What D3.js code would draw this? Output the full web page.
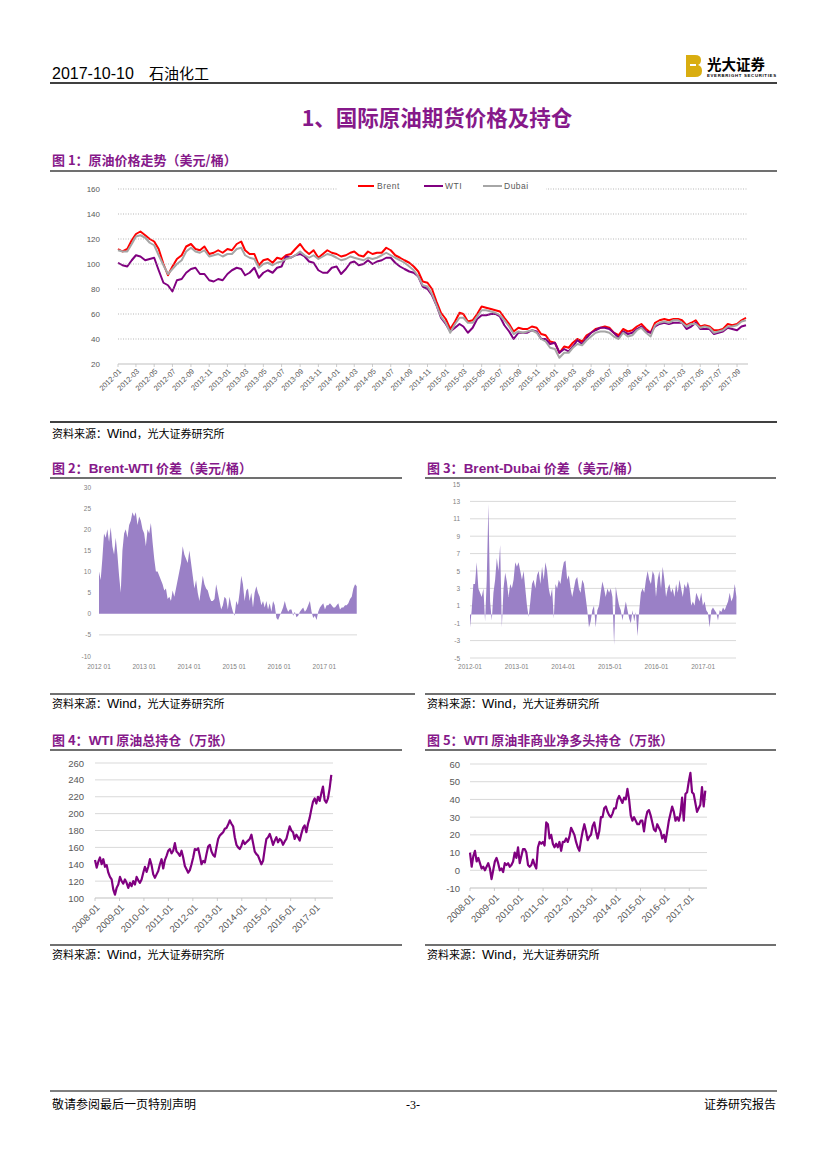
<!DOCTYPE html>
<html><head><meta charset="utf-8">
<script src="https://cdn.jsdelivr.net/npm/d3@7"></script>
<style>html,body{margin:0;padding:0;background:#fff}svg{display:block}</style>
</head><body>
<svg id="page" width="827" height="1169"></svg>
<script>
// ---------------- DATA ----------------
// Figure 1: semi-monthly prices (1st & 16th of each month), 2012-01 .. 2017-10
const brent = [112,110,112,119,124,126,123,120,118,112,100,91,98,104,107,114,116,112,111,114,108,109,111,109,
 112,111,116,118,111,108,108,99,103,104,101,105,104,107,108,112,116,111,108,111,105,108,111,109,
 108,106,107,109,110,107,106,110,108,109,109,113,111,107,105,103,101,98,94,86,85,80,70,61,
 56,48,54,61,60,54,55,60,66,65,64,63,62,57,52,46,49,48,48,50,49,44,43,38,
 37,29,34,33,37,40,38,43,45,48,49,50,49,45,43,48,46,47,50,52,48,45,53,55,
 56,55,56,56,55,51,53,55,50,51,50,47,47,48,52,51,52,55,57];
const wti = [101,99,98,103,107,106,103,104,105,95,85,83,78,87,88,93,96,97,92,92,87,86,88,87,
 92,95,97,96,91,93,97,89,93,95,93,97,98,106,105,107,108,106,102,101,95,93,93,97,
 98,92,96,101,102,99,100,103,100,102,103,105,105,101,98,96,94,93,90,82,80,75,67,57,
 52,46,49,52,50,45,49,56,59,59,60,60,58,51,46,40,45,45,45,47,46,40,40,36,
 37,29,32,30,34,39,36,41,45,47,49,49,48,45,41,46,44,45,48,50,46,45,50,52,
 53,52,53,53,53,48,50,53,48,48,48,44,45,46,49,48,47,50,51];
const dubai = [111,110,110,116,122,123,121,117,115,107,99,92,96,100,103,110,113,110,109,111,106,107,108,106,
 108,108,112,113,107,105,104,97,100,101,99,101,102,104,105,107,110,107,105,107,104,106,108,107,
 105,103,104,106,105,104,103,105,104,105,107,109,107,105,103,101,98,95,90,83,82,76,67,58,
 53,45,52,57,57,53,53,58,63,63,62,61,59,55,50,44,46,45,46,47,45,40,38,33,
 32,25,29,29,33,36,35,39,42,45,46,46,45,42,40,45,42,43,47,49,45,42,51,53,
 54,53,55,55,53,50,52,52,49,50,49,45,46,47,50,50,51,54,55];
const priceTickLabels = ["2012-01","2012-03","2012-05","2012-07","2012-09","2012-11","2013-01","2013-03","2013-05","2013-07","2013-09","2013-11",
 "2014-01","2014-03","2014-05","2014-07","2014-09","2014-11","2015-01","2015-03","2015-05","2015-07","2015-09","2015-11",
 "2016-01","2016-03","2016-05","2016-07","2016-09","2016-11","2017-01","2017-03","2017-05","2017-07","2017-09"];
const priceYTicks = [20,40,60,80,100,120,140,160];
const seriesNames = ["Brent","WTI","Dubai"];

// Figure 2: Brent-WTI spread (roughly two-weekly), 2012-01 .. 2017-09
const brentWti = [10,8,13,19,18,20,17,20.5,16,14,18,14,9,5,15,19,20,18,21,22,24,23,24,21,23,22,20,19,16,20,19,21.5,17,13,10,10,
 9,8,7,5.5,6,3.5,4,3,5.5,4,6,8,10,12,16,14,13,12,15,12,9,6,8,5,3,6,9,7,6,5.5,4,3,3,3.5,7,5,3,1,2,4,3.5,1,4,2,0.5,-0.5,
 3,2,5,9,7,3,5.5,6,3,5,1.5,5,6.5,5,4,2,3,1.5,3,1,2.5,0.5,3,2,-1,-1.5,-0.5,0.5,1.5,3,1.5,0.5,1,1,-0.5,0.5,-0.8,-0.5,
 0.5,1,1.5,0.5,1,2,3,0.5,-1,-0.5,-1.5,0.5,1.5,2,2.5,1,2,2,2.5,2,1.5,1.5,2,2.5,1,1.5,1.5,2,2,2.5,3.5,4,6,7,6.5];
const bwTickLabels = ["2012 01","2013 01","2014 01","2015 01","2016 01","2017 01"];
const bwYTicks = [-10,-5,0,5,10,15,20,25,30];

// Figure 3: Brent-Dubai spread (roughly two-weekly), 2012-01 .. 2017-09
const brentDubai = [-1.5,0.5,3.5,3.5,6,3,2.5,2,3,-0.8,4,12.7,1.5,-0.7,2.5,4,6.5,5,8,-1.5,3,4.8,3.8,2,3.5,3,4,6,5.5,6,5,4,5,3,1,-0.3,
 1.5,3.5,4,3,4.5,5,3.5,5.5,4,6,5,3,2,3,-0.5,3.5,3,4,3.5,5,6,6.2,4,4.5,3,2,3,4,4.3,3,2.5,4,3.5,2,0.5,-1.5,-0.8,0.5,1,-1.5,
 0.5,1,2.5,3.8,3,2,3,2.5,3,2,-3.5,3.2,2,1,0.5,-0.7,0.5,1.5,0.5,-0.5,-1,0.5,-0.8,0.3,-2.5,0.5,2.5,3,2.5,4,5,4,3.5,5,4.5,2,
 4,5,3,5.5,4,2,3,3.5,2.5,3,2,3.5,2.5,4,3,2,3.5,3,3.8,3,1,1.5,1,2.5,2,1.5,2.5,1,1.5,0.5,0.2,-1.5,0.5,0.8,0.5,0.2,-0.7,0.5,
 0.3,0.8,0.5,1,1.5,2.5,1.5,2,3.5,2];
const bdTickLabels = ["2012-01","2013-01","2014-01","2015-01","2016-01","2017-01"];
const bdYTicks = [-5,-3,-1,1,3,5,7,9,11,13,15];

// Figure 4: WTI total open interest (10k contracts), 2008-01 .. 2017-09
const totalOI = [145,136,143,148,140,146,137,139,130,125,122,110,104,112,116,125,120,117,122,118,112,118,114,120,116,125,121,118,122,130,
 137,131,137,146,139,128,124,128,132,140,146,135,145,150,156,158,153,156,165,155,153,150,156,148,138,134,130,133,140,148,
 158,157,159,150,140,144,142,152,161,163,155,151,149,160,170,174,176,178,182,183,187,192,188,185,172,163,160,158,162,168,
 164,166,168,170,175,165,155,152,150,145,140,144,158,170,172,176,170,163,168,172,166,170,168,163,167,170,178,185,180,178,
 170,175,172,168,176,183,186,178,188,195,205,214,218,212,220,215,224,232,216,213,218,230,246];
// Figure 5: WTI non-commercial net long (10k contracts), 2008-01 .. 2017-09
const netLong = [10,2,8,11,5,7,4,1,2,0,2,4,1,-5,0,5,7,4,0,1,-1,4,3,4,2,3,5,10,7,13,4,8,12,12,10,3,2,3,6,3,1,13,16,15,16,14,27,26,18,20,
 15,13,15,13,16,11,16,16,18,16,19,24,22,20,16,13,11,17,22,26,22,17,19,20,25,27,22,18,22,30,30,35,36,33,31,30,32,35,35,40,
 42,40,38,41,40,46,40,31,28,30,28,26,26,28,28,22,29,33,34,31,27,23,22,26,24,22,18,20,16,22,28,32,36,33,28,30,28,32,41,28,
 43,44,50,55,44,43,38,33,35,37,47,36,45];
const oiTickLabels = ["2008-01","2009-01","2010-01","2011-01","2012-01","2013-01","2014-01","2015-01","2016-01","2017-01"];
const oiYTicks = [100,120,140,160,180,200,220,240,260];
const nlYTicks = [-10,0,10,20,30,40,50,60];

// ---------------- DRAWING ----------------
const svg = d3.select('#page');
const CJK = '"Noto Sans CJK SC", sans-serif';
const SANS = '"Liberation Sans", Arial, sans-serif';
const TPURPLE = '#86198a';
const GRID = '#d9d9d9';
const LABEL = '#595959';
const AREA = '#9a80c6';
const LINEP = '#800080';

function txt(x, y, s, o = {}) {
  const t = svg.append('text').attr('x', x).attr('y', y).text(s)
    .attr('font-family', o.ff || CJK).attr('font-size', o.fs || 12)
    .attr('fill', o.fill || '#000').attr('text-anchor', o.anchor || 'start');
  if (o.fw) t.attr('font-weight', o.fw);
  return t;
}
function hline(x1, x2, y, stroke, w, dash) {
  const l = svg.append('line').attr('x1', x1).attr('x2', x2).attr('y1', y).attr('y2', y)
    .attr('stroke', stroke).attr('stroke-width', w);
  if (dash) l.attr('stroke-dasharray', dash);
  return l;
}
function figTitle(x, y, parts) {
  const t = svg.append('text').attr('x', x).attr('y', y).attr('fill', TPURPLE).attr('font-weight', 'bold');
  parts.forEach(p => t.append('tspan').text(p[0]).attr('font-family', p[1] === 'l' ? SANS : CJK)
    .attr('font-size', p[1] === 'l' ? 13.5 : 13));
}
function caption(x, y) {
  const t = svg.append('text').attr('x', x).attr('y', y).attr('fill', '#000');
  t.append('tspan').text('资料来源：').attr('font-family', CJK).attr('font-size', 11);
  t.append('tspan').text('Wind').attr('font-family', SANS).attr('font-size', 13);
  t.append('tspan').text('，光大证券研究所').attr('font-family', CJK).attr('font-size', 11);
}

// Header
txt(52, 79, '2017-10-10', {ff: SANS, fs: 16});
txt(149, 79, '石油化工', {fs: 15});
hline(50, 777, 83, '#000', 1.3);
// Logo
svg.append('path').attr('fill', '#d9ad10')
  .attr('d', 'M686,55 h9 q6,0 6,5 q0,4 -3,5 q4,1 4,6 q0,6 -7,6 h-9 z');
svg.append('rect').attr('x', 690).attr('y', 64).attr('width', 6).attr('height', 2).attr('fill', '#fff');
txt(707, 70, '光大证券', {fs: 14.5, fw: 'bold'});
txt(707, 77, 'EVERBRIGHT SECURITIES', {ff: SANS, fs: 4.3, fw: 'bold'}).attr('textLength', 69);

// Section title
txt(437, 126, '1、国际原油期货价格及持仓', {fs: 21.5, fw: 'bold', fill: TPURPLE, anchor: 'middle'});

// Footer
hline(50, 777, 1091, '#000', 1);
txt(52, 1109, '敬请参阅最后一页特别声明', {fs: 12});
txt(413, 1109, '-3-', {ff: '"Liberation Serif", serif', fs: 12, anchor: 'middle'});
txt(776, 1109, '证券研究报告', {fs: 12, anchor: 'end'});

const parseYM = d3.timeParse('%Y-%m');
const parseYsM = d3.timeParse('%Y %m');

// ---------- Figure 1 ----------
figTitle(52, 165, [['图 1：原油价格走势（美元/桶）', 'c']]);
hline(50, 777, 171, '#404040', 1.5);
{
  const dates = brent.map((_, i) => new Date(2012, Math.floor(i / 2), i % 2 ? 16 : 1));
  const x = d3.scaleTime().domain([new Date(2012, 0, 1), new Date(2017, 9, 1)]).range([118, 746]);
  const y = d3.scaleLinear().domain([20, 160]).range([364, 189]);
  const g = svg.append('g');
  priceYTicks.forEach(v => {
    if (v > 20) hline(118, 748, y(v), '#9a9a9a', 0.7, '1,1.5');
    txt(100, y(v) + 3, String(v), {ff: SANS, fs: 8, fill: LABEL, anchor: 'end'});
  });
  hline(118, 748, y(20), '#bfbfbf', 1);
  priceTickLabels.forEach(s => {
    const d = parseYM(s), px = x(d);
    svg.append('line').attr('x1', px).attr('x2', px).attr('y1', y(20)).attr('y2', y(20) + 3)
      .attr('stroke', '#bfbfbf').attr('stroke-width', 0.8);
    svg.append('text').attr('transform', `translate(${px + 2},${y(20) + 6}) rotate(-45)`)
      .attr('text-anchor', 'end').attr('dy', '0.35em').attr('font-family', SANS).attr('font-size', 7.5)
      .attr('fill', LABEL).text(s);
  });
  const series = [[brent, '#ff0000'], [wti, '#800080'], [dubai, '#a6a6a6']];
  series.forEach(([arr, col]) => {
    const line = d3.line().x((d, i) => x(dates[i])).y(d => y(d));
    g.append('path').attr('d', line(arr)).attr('fill', 'none').attr('stroke', col)
      .attr('stroke-width', 2).attr('stroke-linejoin', 'round');
  });
  // legend
  svg.append('rect').attr('x', 338).attr('y', 180).attr('width', 208).attr('height', 12).attr('fill', '#fff');
  const leg = [[358, 374, 377], [424, 443, 445], [483, 502, 504]];
  leg.forEach((p, i) => {
    hline(p[0], p[1], 186, series[i][1], 2);
    txt(p[2], 189, seriesNames[i], {ff: SANS, fs: 8.5, fill: LABEL}).attr('letter-spacing', 0.5);
  });
}
hline(50, 777, 422, '#000', 1.5);
caption(52, 438);

// ---------- Figure 2 ----------
figTitle(52, 473, [['图 2：', 'c'], ['Brent-WTI', 'l'], [' 价差（美元/桶）', 'c']]);
hline(50, 402, 478, '#404040', 1.5);
{
  const t0 = new Date(2012, 0, 1).getTime();
  const step = 13.57 * 86400000;
  const dates = brentWti.map((_, i) => new Date(t0 + i * step));
  const x = d3.scaleTime().domain([new Date(2012, 0, 1), new Date(2017, 9, 1)]).range([99, 358]);
  const y = d3.scaleLinear().domain([-10, 30]).range([656, 487]);
  bwYTicks.forEach(v => txt(91, y(v) + 2.5, String(v), {ff: SANS, fs: 6.5, fill: '#7f7f7f', anchor: 'end'}));
  hline(99, 357, y(-5), GRID, 1);
  const area = d3.area().x((d, i) => x(dates[i])).y0(y(0)).y1(d => y(d));
  svg.append('path').attr('d', area(brentWti)).attr('fill', AREA);
  bwTickLabels.forEach(s => {
    txt(x(parseYsM(s)), 669, s, {ff: SANS, fs: 6.5, fill: '#7f7f7f', anchor: 'middle'});
  });
}
hline(50, 415, 694, '#404040', 1.5);
caption(52, 708);

// ---------- Figure 3 ----------
figTitle(427, 473, [['图 3：', 'c'], ['Brent-Dubai', 'l'], [' 价差（美元/桶）', 'c']]);
hline(425, 776, 478, '#404040', 1.5);
{
  const t0 = new Date(2012, 0, 1).getTime();
  const step = 13.13 * 86400000;
  const dates = brentDubai.map((_, i) => new Date(t0 + i * step));
  const x = d3.scaleTime().domain([new Date(2012, 0, 1), new Date(2017, 9, 1)]).range([470, 738]);
  const y = d3.scaleLinear().domain([-5, 15]).range([658, 484]);
  bdYTicks.forEach(v => {
    if (v < 15) hline(470, 736, y(v), GRID, 1);
    txt(460, y(v) + 2.5, String(v), {ff: SANS, fs: 6.5, fill: '#7f7f7f', anchor: 'end'});
  });
  const area = d3.area().x((d, i) => x(dates[i])).y0(y(0)).y1(d => y(d));
  svg.append('path').attr('d', area(brentDubai)).attr('fill', AREA);
  bdTickLabels.forEach(s => {
    txt(x(parseYM(s)), 669, s, {ff: SANS, fs: 6.5, fill: '#7f7f7f', anchor: 'middle'});
  });
}
hline(425, 776, 694, '#404040', 1.5);
caption(427, 708);

// ---------- Figure 4 & 5 ----------
function oiChart(cfg) {
  const t0 = new Date(2008, 0, 1).getTime();
  const step = 24.85 * 86400000;
  const dates = cfg.data.map((_, i) => new Date(t0 + i * step));
  const x = d3.scaleTime().domain([new Date(2008, 0, 1), new Date(2017, 8, 24)]).range([cfg.x0, cfg.x1]);
  const y = d3.scaleLinear().domain(cfg.yd).range(cfg.yr);
  cfg.ticks.forEach(v => {
    hline(cfg.x0, cfg.x1, y(v), v === cfg.yd[0] ? '#bfbfbf' : GRID, 1);
    txt(cfg.lx, y(v) + 3.5, String(v), {ff: SANS, fs: 9.5, fill: LABEL, anchor: 'end'});
  });
  oiTickLabels.forEach(s => {
    const px = x(parseYM(s));
    svg.append('line').attr('x1', px).attr('x2', px).attr('y1', y(cfg.yd[0])).attr('y2', y(cfg.yd[0]) + 3)
      .attr('stroke', '#bfbfbf').attr('stroke-width', 0.8);
    svg.append('text').attr('transform', `translate(${px + 3},${y(cfg.yd[0]) + 8}) rotate(-45)`)
      .attr('text-anchor', 'end').attr('dy', '0.35em').attr('font-family', SANS).attr('font-size', 9.5)
      .attr('fill', LABEL).text(s);
  });
  const line = d3.line().x((d, i) => x(dates[i])).y(d => y(d));
  svg.append('path').attr('d', line(cfg.data)).attr('fill', 'none').attr('stroke', LINEP)
    .attr('stroke-width', 2.2).attr('stroke-linejoin', 'round');
}
figTitle(52, 745, [['图 4：', 'c'], ['WTI', 'l'], [' 原油总持仓（万张）', 'c']]);
hline(50, 402, 750, '#404040', 1.5);
oiChart({data: totalOI, x0: 95, x1: 333, yd: [100, 260], yr: [898, 763], ticks: oiYTicks, lx: 84});
hline(50, 402, 945, '#404040', 1.5);
caption(52, 959);

figTitle(427, 745, [['图 5：', 'c'], ['WTI', 'l'], [' 原油非商业净多头持仓（万张）', 'c']]);
hline(425, 776, 750, '#404040', 1.5);
oiChart({data: netLong, x0: 470, x1: 707, yd: [-10, 60], yr: [888, 764], ticks: nlYTicks, lx: 460});
hline(425, 776, 945, '#404040', 1.5);
caption(427, 959);
</script>
</body></html>
